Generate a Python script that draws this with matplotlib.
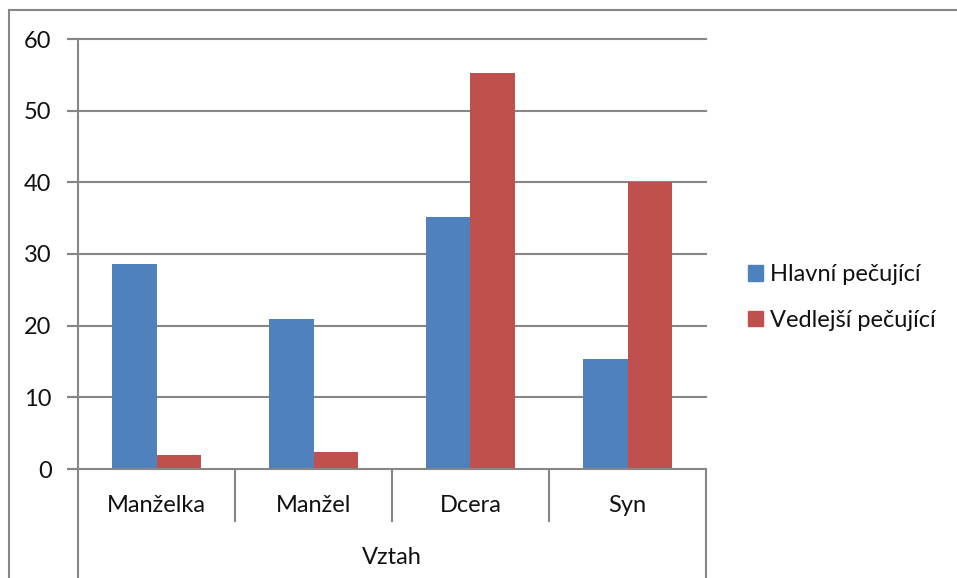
import matplotlib.pyplot as plt
import numpy as np
from matplotlib.lines import Line2D
from matplotlib.patches import Patch

# data
categories = ["Manželka", "Manžel", "Dcera", "Syn"]
group_label = "Vztah"
series_names = ["Hlavní pečující", "Vedlejší pečující"]
hlavni = [28.6, 20.9, 35.2, 15.3]
vedlejsi = [2.0, 2.4, 55.3, 40.0]
y_ticks = [0, 10, 20, 30, 40, 50, 60]

BLUE = "#4F81BD"
RED = "#C0504D"
GRID = "#868686"
FS = 17

plt.rcParams["font.family"] = ["Lato", "DejaVu Sans"]
plt.rcParams["text.color"] = "#111111"
plt.rcParams["ytick.labelcolor"] = "#111111"

W, H = 957, 578
fig = plt.figure(figsize=(W / 100, H / 100), dpi=100)
fig.patch.set_facecolor("white")


def px(x, y):
    # pixel coords (from top-left) -> figure fraction
    return x / W, 1 - y / H


# plot area in pixels: x 78..706, y 39..469
x0, y0 = px(78, 469)
x1, y1 = px(706, 39)
ax = fig.add_axes([x0, y0, x1 - x0, y1 - y0])

x = np.arange(len(categories))
bw = 0.286
ax.bar(x - bw / 2, hlavni, bw, color=BLUE, label=series_names[0], zorder=3)
ax.bar(x + bw / 2, vedlejsi, bw, color=RED, label=series_names[1], zorder=3)

ax.set_xlim(-0.5, len(categories) - 0.5)
ax.set_ylim(0, 60)
ax.set_yticks(y_ticks)
ax.tick_params(axis="y", direction="out", length=8, width=1.5, color=GRID,
               labelsize=FS, pad=11)
ax.set_xticks([])

for s in ["top", "right", "bottom"]:
    ax.spines[s].set_visible(False)
ax.spines["left"].set_color(GRID)
ax.spines["left"].set_linewidth(1.5)

# gridlines, stretched over the outward tick marks
trans = ax.get_yaxis_transform()
for v in y_ticks:
    ax.plot([-8 / 628, 1], [v, v], transform=trans, color=GRID, lw=1.5,
            clip_on=False, zorder=1 if v else 4)

# category separators and outer lines below the axis
ax_h = 430
for b in np.arange(0.5, len(categories) - 0.5):
    ax.plot([b, b], [0, -(521 - 469) / ax_h], transform=ax.get_xaxis_transform(),
            color=GRID, lw=1.5, clip_on=False)
for b in [-0.5, len(categories) - 0.5]:
    ax.plot([b, b], [0, -(590 - 469) / ax_h], transform=ax.get_xaxis_transform(),
            color=GRID, lw=1.5, clip_on=False)

for i, c in enumerate(categories):
    ax.text(i, -(505 - 469) / ax_h, c, transform=ax.get_xaxis_transform(),
            ha="center", va="center", fontsize=FS)
ax.text(0.5, -(558 - 469) / ax_h, group_label, transform=ax.transAxes,
        ha="center", va="center", fontsize=FS)

# chart-area border (only left and top visible in the crop)
fig.add_artist(Line2D([9 / W, 9 / W], [0, 1 - 10 / H], color=GRID, lw=1.5))
fig.add_artist(Line2D([9 / W, 1], [1 - 10 / H, 1 - 10 / H], color=GRID, lw=1.5))

handles = [Patch(color=BLUE), Patch(color=RED)]
fig.legend(handles, series_names, loc="center left",
           bbox_to_anchor=(748 / W, 1 - 297.5 / H), frameon=False,
           fontsize=FS, handlelength=0.64, handleheight=0.64,
           handletextpad=0.3, labelspacing=1.05, borderpad=0,
           borderaxespad=0)

fig.savefig("out.png", dpi=100)
